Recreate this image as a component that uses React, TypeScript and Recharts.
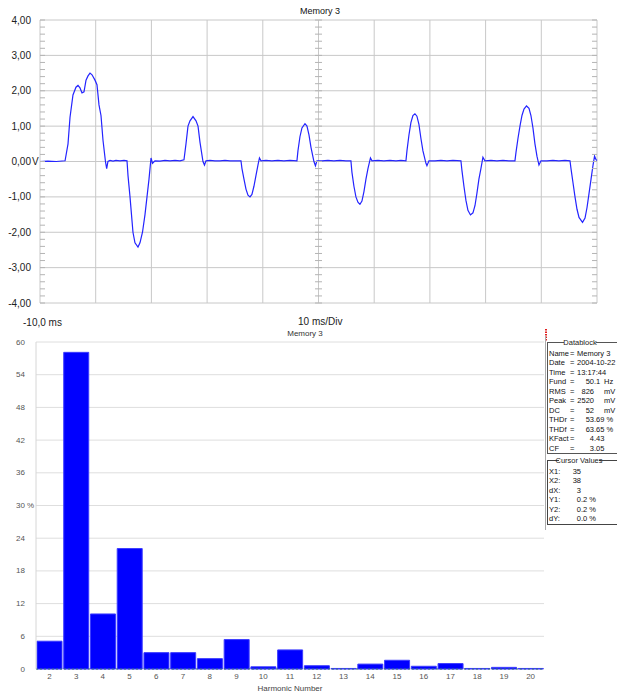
import React from 'react'
import { LineChart, Line, XAxis, YAxis, CartesianGrid, BarChart, Bar, ReferenceLine } from 'recharts'

// scope trace, [time ms, volts]
const waveform: [number, number][] = [
  [-10, 0], [-8.6, 0.01], [-7.1, 0], [-5.5, 0.02],
  [-4.97, 0.5], [-4.61, 1.25], [-4.08, 1.88], [-3.54, 2.1], [-3.18, 2.15], [-2.82, 2.08], [-2.46, 1.94], [-2.1, 1.97],
  [-1.74, 2.3], [-1.38, 2.42], [-1.02, 2.5], [-0.66, 2.45], [-0.13, 2.3], [0.23, 2.17], [0.59, 1.6], [0.95, 1.3],
  [1.31, 0.6], [1.75, 0], [1.97, -0.2], [2.2, 0], [2.57, 0.03], [3.11, 0.01], [3.64, 0.03], [4.36, 0.02], [5.08, 0.03], [5.62, 0.02],
  [5.8, -0.4], [6.16, -1.0], [6.69, -2.0], [7.05, -2.3], [7.59, -2.42], [7.95, -2.3], [8.4, -2.0], [8.85, -1.5],
  [9.21, -1.0], [9.57, -0.5], [9.93, 0.1], [10.2, -0.05], [10.64, 0.02], [11.54, 0.01], [12.44, 0.03], [13.34, 0.02],
  [14.24, 0.03], [15.13, 0.02], [15.85, 0.05],
  [16.21, 0.5], [16.57, 1.0], [16.93, 1.15], [17.47, 1.27], [18.01, 1.15], [18.37, 1.0], [18.72, 0.55], [19.26, 0],
  [19.53, -0.1], [19.8, 0.02], [20.52, 0.03], [21.41, 0.02], [22.31, 0.02], [23.21, 0.03], [24.11, 0.02], [25.18, 0.02], [26.08, 0.02],
  [26.26, -0.2], [26.62, -0.5], [26.98, -0.78], [27.34, -0.95], [27.7, -1.0], [28.05, -0.93], [28.41, -0.7], [28.77, -0.4],
  [29.13, -0.1], [29.4, 0.1], [29.67, 0.02], [30.57, 0.03], [31.64, 0.02], [32.72, 0.03], [33.8, 0.02], [34.88, 0.03], [36.13, 0.02],
  [36.31, 0.3], [36.67, 0.7], [37.03, 0.95], [37.57, 1.07], [37.93, 1.0], [38.29, 0.75], [38.65, 0.4], [39.18, 0],
  [39.45, -0.12], [39.72, 0.02], [40.62, 0.02], [41.7, 0.03], [42.77, 0.02], [43.85, 0.03], [44.93, 0.02], [45.82, 0.02],
  [46.0, -0.3], [46.36, -0.7], [46.72, -1.0], [47.08, -1.15], [47.44, -1.21], [47.8, -1.12], [48.16, -0.85], [48.52, -0.5],
  [48.88, -0.2], [49.33, 0.1], [49.6, 0.02], [50.68, 0.03], [51.75, 0.02], [52.83, 0.03], [53.91, 0.02], [54.8, 0.03], [55.7, 0.02],
  [55.88, 0.3], [56.24, 0.75], [56.59, 1.1], [56.95, 1.3], [57.31, 1.35], [57.67, 1.28], [58.03, 1.05], [58.39, 0.65],
  [58.75, 0.3], [59.29, -0.05], [59.47, -0.12], [59.83, 0.02], [60.9, 0.02], [61.98, 0.03], [63.06, 0.02], [64.13, 0.03], [65.57, 0.02],
  [65.75, -0.25], [66.11, -0.7], [66.47, -1.1], [66.83, -1.38], [67.28, -1.51], [67.73, -1.45], [68.09, -1.25], [68.44, -0.9],
  [68.8, -0.5], [69.16, -0.2], [69.52, 0.12], [69.88, 0.02], [70.96, 0.03], [72.04, 0.02], [73.12, 0.03], [74.19, 0.02], [75.27, 0.02],
  [75.45, 0.25], [75.81, 0.65], [76.17, 1.0], [76.53, 1.3], [76.89, 1.48], [77.34, 1.57], [77.79, 1.5], [78.14, 1.3],
  [78.5, 0.95], [78.86, 0.5], [79.22, 0.15], [79.58, -0.1], [79.94, 0.02], [81.02, 0.02], [82.09, 0.03], [83.17, 0.02], [84.25, 0.03], [85.15, 0.02],
  [85.33, -0.2], [85.69, -0.6], [86.05, -1.0], [86.41, -1.35], [86.77, -1.58], [87.4, -1.72], [87.85, -1.6], [88.21, -1.3],
  [88.57, -0.9], [88.93, -0.5], [89.29, -0.1], [89.56, 0.15], [89.83, 0.05], [90, 0.03],
]

const timeGrid = [-10, 0, 10, 20, 30, 40, 50, 60, 70, 80, 90]
const voltGrid = [4, 3, 2, 1, 0, -1, -2, -3, -4]
const voltLabels = ['4,00', '3,00', '2,00', '1,00', '0,00', '-1,00', '-2,00', '-3,00', '-4,00']

const harmonicOrders = [2, 3, 4, 5, 6, 7, 8, 9, 10, 11, 12, 13, 14, 15, 16, 17, 18, 19, 20]
const harmonicPct = [5.1, 58.1, 10.1, 22.1, 3.0, 3.0, 1.9, 5.4, 0.4, 3.5, 0.6, 0.1, 0.9, 1.6, 0.5, 1.0, 0.1, 0.3, 0.1]
const pctTicks = [0, 6, 12, 18, 24, 30, 36, 42, 48, 54, 60]

const datablockRows: [string, string, string][] = [
  ['Name', 'Memory 3', ''],
  ['Date', '2004-10-22', ''],
  ['Time', '13:17:44', ''],
  ['Fund', '50.1', 'Hz'],
  ['RMS', '826', 'mV'],
  ['Peak', '2520', 'mV'],
  ['DC', '52', 'mV'],
  ['THDr', '53.69', '%'],
  ['THDf', '63.65', '%'],
  ['KFact', '4.43', ''],
  ['CF', '3.05', ''],
]
const cursorRows: [string, string, string][] = [
  ['X1', '35', ''],
  ['X2', '38', ''],
  ['dX', '3', ''],
  ['Y1', '0.2', '%'],
  ['Y2', '0.2', '%'],
  ['dY', '0.0', '%'],
]

const scopeData = waveform.map(([t, v]) => ({ t, v }))
const harmonicData = harmonicOrders.map((order, i) => ({ order, pct: harmonicPct[i] }))

const minorTime = Array.from({ length: 51 }, (_, i) => -10 + i * 2)
const minorVolt = Array.from({ length: 41 }, (_, i) => Math.round((-4 + i * 0.2) * 10) / 10)

const FONT = 'Arial, "Liberation Sans", sans-serif'
const PLOT_W = 557
const PLOT_H = 283
const TICK = '#b4b4b4'

function BottomTick(props: any) {
  const { x, y } = props
  const mid = y - PLOT_H / 2
  return (
    <g stroke={TICK}>
      <line x1={x} x2={x} y1={y - 5} y2={y} />
      <line x1={x} x2={x} y1={mid - 2.5} y2={mid + 2.5} />
    </g>
  )
}

function TopTick(props: any) {
  const { x, y } = props
  return <line x1={x} x2={x} y1={y} y2={y + 5} stroke={TICK} />
}

function VoltTick(props: any) {
  const { x, y, payload } = props
  const idx = voltGrid.indexOf(payload.value)
  const mid = x + PLOT_W / 2
  return (
    <g>
      <g stroke={TICK}>
        <line x1={x} x2={x + 5} y1={y} y2={y} />
        <line x1={mid - 3.5} x2={mid + 3.5} y1={y} y2={y} />
        <line x1={x + PLOT_W - 5} x2={x + PLOT_W} y1={y} y2={y} />
      </g>
      {idx >= 0 && (
        <text x={x - 9} y={y} textAnchor="end" dominantBaseline="central" fontSize={10} fill="#222" fontFamily={FONT}>
          {voltLabels[idx]}
        </text>
      )}
      {payload.value === 0 && (
        <text x={x - 8} y={y} dominantBaseline="central" fontSize={10} fill="#222" fontFamily={FONT}>
          V
        </text>
      )}
    </g>
  )
}

function PctTick(props: any) {
  const { x, y, payload } = props
  return (
    <g fontSize={8} fill="#555" fontFamily={FONT}>
      <text x={x - 11} y={y} textAnchor="end" dominantBaseline="central">{payload.value}</text>
      {payload.value === 30 && (
        <text x={x - 9} y={y} dominantBaseline="central">%</text>
      )}
    </g>
  )
}

function splitNum(v: string) {
  const k = v.indexOf('.')
  return k < 0 ? [v, ''] : [v.slice(0, k), v.slice(k)]
}

function DataPanel() {
  const rowY0 = 353
  const step = 9.55
  const curY0 = 471
  return (
    <svg width={617} height={692} style={{ position: 'absolute', left: 0, top: 0, pointerEvents: 'none' }} fontFamily={FONT}>
      {/* trace captions */}
      <text x={320} y={11} textAnchor="middle" dominantBaseline="central" fontSize={9} fill="#111">Memory 3</text>
      <text x={23} y={322} dominantBaseline="central" fontSize={10} fill="#222">-10,0 ms</text>
      <text x={298} y={321} dominantBaseline="central" fontSize={10} fill="#222">10 ms/Div</text>
      {/* spectrum captions */}
      <text x={305} y={333} textAnchor="middle" dominantBaseline="central" fontSize={8} fill="#333">Memory 3</text>
      <text x={290} y={688} textAnchor="middle" dominantBaseline="central" fontSize={8} fill="#444">Harmonic Number</text>

      {/* cursor marker */}
      <line x1={546} x2={546} y1={329} y2={341} stroke="#e02020" strokeWidth={2} strokeDasharray="1.5 1" />

      {/* datablock */}
      <line x1={545.5} x2={545.5} y1={336} y2={530} stroke="#aaa" />
      <rect x={547.5} y={342.5} width={80} height={111} fill="none" stroke="#555" />
      <rect x={564} y={337} width={32} height={10} fill="#fff" />
      <text x={580} y={342} textAnchor="middle" dominantBaseline="central" fontSize={7.5} fill="#222">Datablock</text>
      {datablockRows.map(([label, value, unit], i) => {
        const y = rowY0 + i * step
        const numeric = /^[\d.]+$/.test(value)
        const [ip, fp] = splitNum(value)
        return (
          <g key={label} fontSize={7.5} fill="#111">
            <text x={549} y={y} dominantBaseline="central">{label}</text>
            <text x={570} y={y} dominantBaseline="central">=</text>
            {numeric ? (
              <>
                <text x={594} y={y} textAnchor="end" dominantBaseline="central">{ip}</text>
                <text x={594} y={y} dominantBaseline="central">{fp}{unit === '%' ? ' %' : ''}</text>
                {unit && unit !== '%' && <text x={604} y={y} dominantBaseline="central">{unit}</text>}
              </>
            ) : (
              <text x={577} y={y} dominantBaseline="central">{value}</text>
            )}
          </g>
        )
      })}

      {/* cursor values */}
      <rect x={547.5} y={460.5} width={80} height={64} fill="none" stroke="#444" />
      <rect x={559} y={455} width={40} height={10} fill="#fff" />
      <text x={579} y={460} textAnchor="middle" dominantBaseline="central" fontSize={7.5} fill="#222">Cursor Values</text>
      {cursorRows.map(([label, value, unit], i) => {
        const y = curY0 + i * step
        const [ip, fp] = splitNum(value)
        return (
          <g key={label} fontSize={7.5} fill="#111">
            <text x={549} y={y} dominantBaseline="central">{label}:</text>
            <text x={581} y={y} textAnchor="end" dominantBaseline="central">{ip}</text>
            <text x={581} y={y} dominantBaseline="central">{fp}{unit ? ' ' + unit : ''}</text>
          </g>
        )
      })}
    </svg>
  )
}

export default function App() {
  return (
    <div style={{ position: 'absolute', left: 0, top: 0, width: 617, height: 692, background: '#fff', fontFamily: FONT }}>
      <div style={{ position: 'absolute', left: 0, top: 0 }}>
        <LineChart width={617} height={330} data={scopeData} margin={{ top: 20, right: 20, bottom: 27, left: 0 }}>
          <CartesianGrid
            stroke="#c8c8c8"
            horizontalValues={voltGrid}
            verticalValues={timeGrid}
          />
          <XAxis
            type="number"
            dataKey="t"
            domain={[-10, 90]}
            ticks={minorTime}
            interval={0}
            height={0}
            tickSize={0}
            tickMargin={0}
            axisLine={false}
            tickLine={false}
            tick={<BottomTick />}
          />
          <XAxis
            xAxisId="top"
            orientation="top"
            type="number"
            dataKey="t"
            domain={[-10, 90]}
            ticks={minorTime}
            interval={0}
            height={0}
            tickSize={0}
            tickMargin={0}
            axisLine={false}
            tickLine={false}
            tick={<TopTick />}
          />
          <YAxis
            type="number"
            domain={[-4, 4]}
            ticks={minorVolt}
            interval={0}
            width={40}
            tickSize={0}
            tickMargin={0}
            axisLine={false}
            tickLine={false}
            tick={<VoltTick />}
          />
          <Line
            type="linear"
            dataKey="v"
            stroke="#2424ff"
            strokeWidth={1.2}
            dot={false}
            isAnimationActive={false}
          />
        </LineChart>
      </div>
      <div style={{ position: 'absolute', left: 0, top: 330 }}>
        <BarChart width={617} height={362} data={harmonicData} margin={{ top: 12, right: 73, bottom: 9, left: 0 }} barCategoryGap={1}>
          <CartesianGrid vertical={false} stroke="#dedede" />
          <XAxis
            dataKey="order"
            interval={0}
            height={14}
            tickSize={0}
            tickMargin={4}
            axisLine={false}
            tickLine={false}
            tick={{ fontSize: 8, fill: '#555', fontFamily: FONT }}
          />
          <YAxis
            domain={[0, 60]}
            ticks={pctTicks}
            interval={0}
            width={36}
            tickSize={0}
            tickMargin={0}
            axisLine={{ stroke: '#d6d6d6' }}
            tickLine={false}
            tick={<PctTick />}
          />
          <YAxis yAxisId="frame" orientation="right" width={0} tick={false} tickLine={false} axisLine={{ stroke: '#d6d6d6' }} />
          <Bar dataKey="pct" fill="#0000ff" stroke="#3c3cff" strokeWidth={1} isAnimationActive={false} />
          <ReferenceLine y={0} stroke="#2d6d7d" strokeDasharray="2 2" />
        </BarChart>
      </div>
      <DataPanel />
    </div>
  )
}
